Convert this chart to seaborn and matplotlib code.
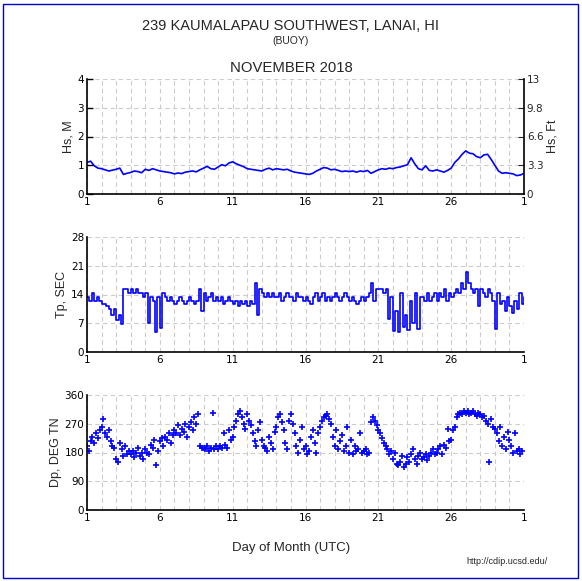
"""CDIP monthly buoy summary: Hs, Tp and Dp for November 2018."""

import matplotlib
matplotlib.use("Agg")
import matplotlib.pyplot as plt
from matplotlib.patches import Rectangle
import numpy as np
import pandas as pd
import seaborn as sns

STATION = "239 KAUMALAPAU SOUTHWEST, LANAI, HI"
MONTH = "NOVEMBER 2018"
DAY_LABELS = ["1", "6", "11", "16", "21", "26", "1"]

# significant wave height (m), 4 samples per day, Nov 1 00Z .. Dec 1 00Z
hs_m = [
    1.10, 1.14, 0.98, 0.90, 0.88, 0.84, 0.80, 0.83,
    0.86, 0.90, 0.68, 0.72, 0.75, 0.80, 0.78, 0.74,
    0.86, 0.82, 0.88, 0.84, 0.80, 0.78, 0.76, 0.74,
    0.70, 0.73, 0.71, 0.76, 0.78, 0.80, 0.77, 0.84,
    0.90, 0.96, 0.88, 0.86, 0.94, 1.02, 0.98, 1.08,
    1.12, 1.05, 1.00, 0.95, 0.88, 0.86, 0.84, 0.82,
    0.80, 0.86, 0.90, 0.84, 0.88, 0.86, 0.84, 0.86,
    0.80, 0.76, 0.74, 0.72, 0.70, 0.68, 0.72, 0.80,
    0.86, 0.92, 0.90, 0.84, 0.86, 0.82, 0.78, 0.80,
    0.78, 0.80, 0.76, 0.80, 0.78, 0.82, 0.72, 0.78,
    0.84, 0.88, 0.86, 0.90, 0.88, 0.92, 0.94, 0.98,
    1.02, 1.26, 1.05, 0.88, 0.84, 0.98, 0.82, 0.80,
    0.84, 0.80, 0.76, 0.82, 0.90, 1.10, 1.22, 1.38,
    1.50, 1.42, 1.40, 1.30, 1.26, 1.36, 1.38, 1.20,
    1.00, 0.80, 0.72, 0.74, 0.72, 0.70, 0.64, 0.66,
    0.72,
]

# peak period (s), 6 samples per day
tp_sec = [
    13.3, 12.5, 14.3, 12.5, 13.3, 12.5,
    11.8, 11.8, 11.1, 10.5, 9.1, 10.5,
    7.7, 9.1, 6.7, 15.4, 15.4, 14.3,
    15.4, 14.3, 15.4, 14.3, 14.3, 13.3,
    14.3, 7.1, 13.3, 12.5, 4.8, 13.3,
    5.9, 14.3, 13.3, 12.5, 13.3, 12.5,
    11.8, 12.5, 13.3, 12.5, 11.8, 12.5,
    13.3, 12.5, 11.8, 12.5, 15.4, 10.0,
    14.3, 12.5, 13.3, 14.3, 12.5, 13.3,
    12.5, 13.3, 11.8, 12.5, 13.3, 12.5,
    11.8, 12.5, 11.1, 12.5, 11.8, 12.5,
    11.1, 12.5, 11.8, 16.7, 9.1, 15.4,
    14.3, 13.3, 14.3, 13.3, 14.3, 13.3,
    13.3, 14.3, 12.5, 13.3, 14.3, 13.3,
    13.3, 12.5, 14.3, 13.3, 13.3, 12.5,
    13.3, 12.5, 11.8, 13.3, 14.3, 12.5,
    13.3, 14.3, 12.5, 13.3, 12.5, 13.3,
    14.3, 13.3, 12.5, 13.3, 14.3, 13.3,
    12.5, 13.3, 12.5, 11.8, 12.5, 13.3,
    12.5, 13.3, 14.3, 16.7, 12.5, 15.4,
    15.4, 15.4, 14.3, 15.4, 8.0, 13.3,
    5.0, 10.0, 4.8, 14.3, 6.2, 9.1,
    5.3, 12.5, 7.1, 14.3, 5.6, 13.3,
    13.3, 12.5, 14.3, 12.5, 13.3, 14.3,
    12.5, 14.3, 13.3, 15.4, 12.5, 14.3,
    13.3, 14.3, 15.4, 14.3, 16.7, 15.4,
    19.6, 16.7, 15.4, 14.3, 15.4, 11.1,
    15.4, 14.3, 13.3, 15.4, 14.3, 12.5,
    5.6, 14.3, 11.8, 12.5, 10.0, 13.3,
    11.1, 9.5, 12.5, 10.5, 14.3, 11.8,
    13.3,
]

# peak direction (deg true), 8 samples per day
dp_deg = [
    200, 185, 215, 230, 210, 240, 225, 250,
    260, 285, 240, 230, 250, 215, 200, 195,
    160, 150, 210, 190, 170, 200, 175, 185,
    175, 185, 165, 180, 195, 170, 180, 160,
    190, 180, 175, 205, 195, 220, 140, 185,
    215, 225, 200, 230, 220, 240, 210, 235,
    250, 240, 265, 235, 255, 245, 270, 230,
    260, 275, 250, 290, 270, 300, 200, 195,
    195, 190, 200, 185, 195, 305, 190, 200,
    190, 200, 195, 240, 205, 195, 250, 220,
    230, 260, 280, 300, 310, 290, 270, 255,
    300, 280, 265, 240, 215, 200, 250, 275,
    220, 200, 195, 185, 230, 210, 190, 245,
    260, 290, 300, 275, 250, 210, 190, 280,
    300, 270, 240, 200, 180, 220, 260, 190,
    200, 175, 185, 230, 250, 210, 180, 240,
    260, 280, 290, 295, 300, 285, 270, 230,
    200, 250, 190, 215, 235, 185, 200, 260,
    180, 220, 175, 200, 185, 190, 240, 180,
    185, 190, 175, 180, 275, 290, 280, 265,
    250, 240, 225, 210, 200, 190, 175, 185,
    160, 180, 145, 140, 150, 170, 135, 145,
    165, 150, 175, 190, 160, 145, 170, 180,
    160, 165, 175, 155, 170, 180, 190, 175,
    180, 190, 200, 175, 205, 195, 255, 215,
    220, 250, 260, 290, 300, 305, 300, 310,
    305, 310, 300, 305, 310, 300, 295, 305,
    300, 290, 295, 280, 270, 150, 285, 260,
    255, 240, 215, 260, 200, 230, 190, 245,
    220, 200, 180, 240, 185, 190, 175, 185,
]

BLUE = "#0000ff"
GRID = "#cccccc"

hs = pd.DataFrame({"day": 1 + np.arange(len(hs_m)) / 4, "hs": hs_m})
tp = pd.DataFrame({"day": 1 + np.arange(len(tp_sec)) / 6, "tp": tp_sec})
dp = pd.DataFrame({"day": 1 + np.arange(len(dp_deg)) / 8, "dp": dp_deg})

sns.set_style("white")
plt.rcParams["font.family"] = ["DejaVu Sans"]

fig = plt.figure(figsize=(5.82, 5.81), dpi=100)
left, width, height = 87 / 582, 437 / 582, 115 / 581
ax1 = fig.add_axes([left, 1 - 194 / 581, width, height])
ax2 = fig.add_axes([left, 1 - 352 / 581, width, height])
ax3 = fig.add_axes([left, 1 - 510 / 581, width, height])


def style_axis(ax, yticks, ylabel):
    ax.set_xlim(1, 31)
    ax.set_ylim(yticks[0], yticks[-1])
    ax.set_xticks([1, 6, 11, 16, 21, 26, 31])
    ax.set_xticklabels(DAY_LABELS)
    ax.set_xticks(np.arange(1, 32), minor=True)
    ax.set_yticks(yticks)
    ax.grid(True, which="both", axis="x", color=GRID, ls=(0, (4, 3)), lw=0.8)
    ax.grid(True, which="major", axis="y", color=GRID, ls=(0, (4, 3)), lw=0.8)
    ax.tick_params(axis="both", which="both", direction="in", length=4,
                   width=1, labelsize=7.5, pad=2, colors="black")
    ax.tick_params(axis="x", which="major", length=5)
    for side in ("top", "right"):
        ax.spines[side].set_visible(False)
    for side in ("left", "bottom"):
        ax.spines[side].set_color("black")
        ax.spines[side].set_linewidth(1.2)
    ax.set_xlabel("")
    ax.set_ylabel(ylabel, fontsize=9, family="Liberation Sans", labelpad=2)


sns.lineplot(data=hs, x="day", y="hs", color=BLUE, lw=1.2, ax=ax1)
style_axis(ax1, [0, 1, 2, 3, 4], "Hs, M")
ax1r = ax1.twinx()
ax1r.set_ylim(0, 4)
ax1r.set_yticks([0, 1, 2, 3, 4])
ax1r.set_yticklabels(["0", "3.3", "6.6", "9.8", "13"])
ax1r.tick_params(axis="y", direction="in", length=4, labelsize=7.5, pad=2)
for side in ("top", "left", "bottom"):
    ax1r.spines[side].set_visible(False)
ax1r.spines["right"].set_color("black")
ax1r.spines["right"].set_linewidth(1.2)
ax1r.set_ylabel("Hs, Ft", fontsize=9, family="Liberation Sans", labelpad=2)

sns.lineplot(data=tp, x="day", y="tp", color=BLUE, lw=1.2,
             drawstyle="steps-post", ax=ax2)
style_axis(ax2, [0, 7, 14, 21, 28], "Tp, SEC")

sns.scatterplot(data=dp, x="day", y="dp", color=BLUE, marker="+", s=14,
                linewidth=1.2, ax=ax3)
style_axis(ax3, [0, 90, 180, 270, 360], "Dp, DEG TN")

fig.text(0.5, 1 - 26 / 581, STATION, ha="center", va="center",
         fontsize=10.5, family="Liberation Sans")
fig.text(0.5, 1 - 41 / 581, "(BUOY)", ha="center", va="center",
         fontsize=7.5, family="Liberation Sans")
fig.text(0.5, 1 - 68 / 581, MONTH, ha="center", va="center",
         fontsize=10.7, family="Liberation Sans")
fig.text(0.5, 1 - 548 / 581, "Day of Month (UTC)", ha="center", va="center",
         fontsize=9.5, family="Liberation Sans")
fig.text(548 / 582, 1 - 561 / 581, "http://cdip.ucsd.edu/", ha="right",
         va="center", fontsize=6.5, family="Liberation Sans")

fig.patches.append(Rectangle((3 / 582, 3 / 581), 575 / 582, 574 / 581,
                             transform=fig.transFigure, fill=False,
                             edgecolor="#0000cc", lw=1))

fig.savefig("out.png", dpi=100)
plt.close(fig)
